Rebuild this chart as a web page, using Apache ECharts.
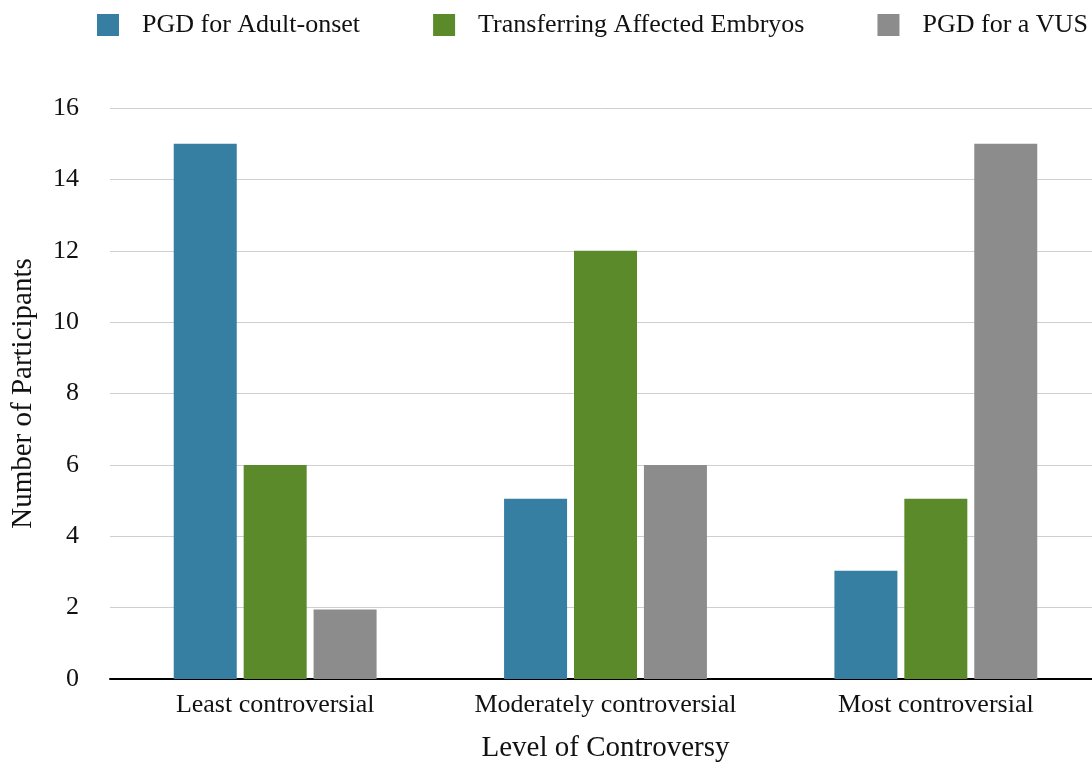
<!DOCTYPE html>
<html><head><meta charset="utf-8">
<script src="https://cdn.jsdelivr.net/npm/echarts@6/dist/echarts.min.js"></script>
<style>html,body{margin:0;padding:0;background:#fff}#c{width:1092px;height:763px}</style>
</head><body><div id="c"></div>
<script>
const categories = ['Least controversial', 'Moderately controversial', 'Most controversial'];
const seriesNames = ['PGD for Adult-onset', 'Transferring Affected Embryos', 'PGD for a VUS'];
const adultOnset = [15, 5.05, 3.03];
const affectedEmbryos = [6, 12, 5.05];
const vus = [1.95, 6, 15];
const yTicks = [0, 2, 4, 6, 8, 10, 12, 14, 16];

const font = 'Liberation Serif, Times New Roman, serif';
const chart = echarts.init(document.getElementById('c'));
chart.setOption({
  animation: false,
  color: ['#367ea2', '#5a8a2a', '#8c8c8c'],
  textStyle: { fontFamily: font },
  legend: {
    left: 97, top: 12, width: 1400, padding: 0,
    itemWidth: 22, itemHeight: 22, itemGap: 73,
    icon: 'rect',
    textStyle: { fontFamily: font, fontSize: 26, color: '#111', padding: [0, 0, 0, 18] },
    data: seriesNames
  },
  grid: { left: 110, right: -9, top: 108, bottom: 84, containLabel: false, outerBoundsMode: 'none' },
  xAxis: {
    type: 'category', data: categories,
    axisLine: { lineStyle: { color: '#000', width: 2 } },
    axisTick: { show: false },
    axisLabel: { fontFamily: font, fontSize: 26, color: '#111', margin: 13, interval: 0 },
    name: 'Level of Controversy', nameLocation: 'middle', nameGap: 55,
    nameTextStyle: { fontFamily: font, fontSize: 29, color: '#111' }
  },
  yAxis: {
    type: 'value', min: yTicks[0], max: yTicks[yTicks.length - 1], interval: 2,
    axisLine: { show: false }, axisTick: { show: false },
    splitLine: { lineStyle: { color: '#cfcfcf', width: 1 } },
    axisLabel: { fontFamily: font, fontSize: 26, color: '#111', margin: 31 },
    name: 'Number of Participants', nameLocation: 'middle', nameGap: 72,
    nameTextStyle: { fontFamily: font, fontSize: 29, color: '#111' }
  },
  series: [
    { name: seriesNames[0], type: 'bar', data: adultOnset, barWidth: 63, barGap: '11%' },
    { name: seriesNames[1], type: 'bar', data: affectedEmbryos, barWidth: 63, barGap: '11%' },
    { name: seriesNames[2], type: 'bar', data: vus, barWidth: 63, barGap: '11%' }
  ]
});
</script></body></html>
